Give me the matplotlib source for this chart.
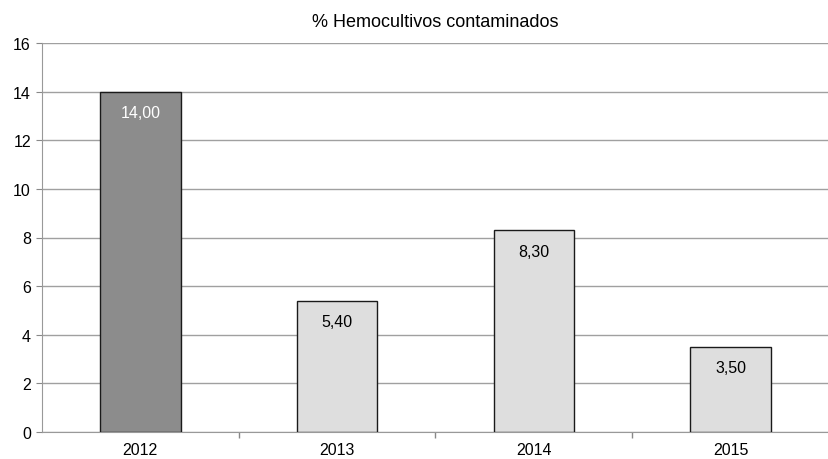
import matplotlib.pyplot as plt
from matplotlib.ticker import FixedLocator, NullFormatter

plt.rcParams['font.family'] = ['Liberation Sans', 'DejaVu Sans']

# --- datos ---
years = ['2012', '2013', '2014', '2015']
values = [14.00, 5.40, 8.30, 3.50]
value_labels = ['14,00', '5,40', '8,30', '3,50']
bar_colors = ['#8c8c8c', '#dedede', '#dedede', '#dedede']
label_colors = ['white', 'black', 'black', 'black']

fig = plt.figure(figsize=(8.29, 4.60), dpi=100)
ax = fig.add_axes([42 / 829, 27 / 460, 1 - 42 / 829, (433 - 44) / 460])

x = list(range(len(years)))
ax.bar(x, values, width=0.41, color=bar_colors, edgecolor='#1a1a1a',
       linewidth=1.0, zorder=3)

for xi, v, lab, c in zip(x, values, value_labels, label_colors):
    ax.annotate(lab, (xi, v), xytext=(0, -15), textcoords='offset points',
                ha='center', va='center', fontsize=11.5, color=c, zorder=4)

ax.set_xlim(-0.5, len(years) - 0.5)
ax.set_ylim(0, 16)
ax.set_yticks(range(0, 17, 2))
ax.yaxis.grid(True, color='#a0a0a0', linewidth=1.0, zorder=0)

# etiquetas de categoría centradas, marcas en los límites
ax.set_xticks(x)
ax.set_xticklabels(years, fontsize=11.5)
ax.tick_params(axis='x', which='major', length=0, pad=7)
ax.xaxis.set_minor_locator(FixedLocator([i + 0.5 for i in range(len(years) - 1)]))
ax.xaxis.set_minor_formatter(NullFormatter())
ax.tick_params(axis='x', which='minor', length=4, color='#888888', width=1.0)
ax.tick_params(axis='y', length=4, color='#888888', labelsize=11.5, pad=4)

for side in ['top', 'right']:
    ax.spines[side].set_visible(False)
ax.spines['left'].set_color('#999999')
ax.spines['bottom'].set_color('#999999')

ax.set_title('% Hemocultivos contaminados', fontsize=13, pad=12)

plt.savefig('out.png', dpi=100)
